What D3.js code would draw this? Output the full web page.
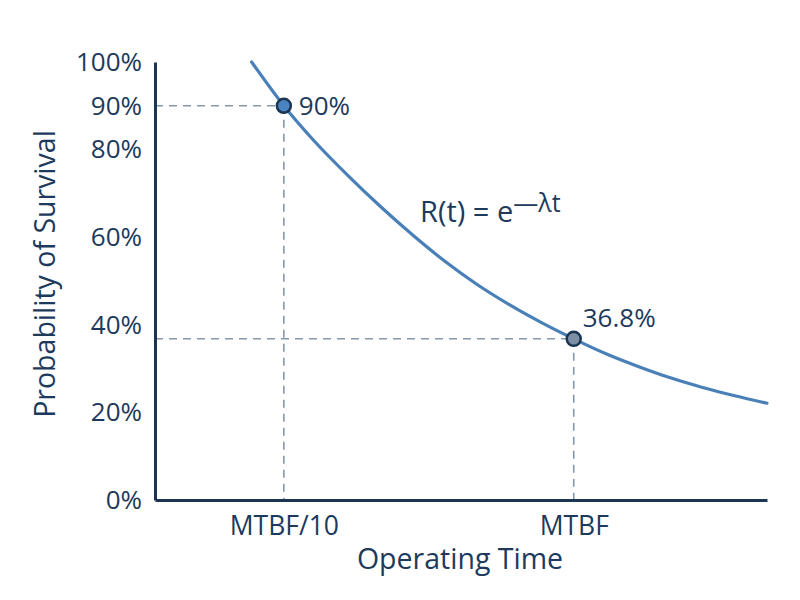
<!DOCTYPE html>
<html>
<head>
<meta charset="utf-8">
<script src="https://cdn.jsdelivr.net/npm/d3@7"></script>
<style>
  html, body { margin: 0; padding: 0; background: #ffffff; }
  svg { display: block; }
  text { font-family: "Open Sans", "Noto Sans", sans-serif; fill: #1d3a5c; }
</style>
</head>
<body>
<svg id="chart" width="800" height="600"></svg>
<script>
// ---- data ----
const timeValues = [0, 0.1, 0.2, 0.3, 0.4, 0.5, 0.6, 0.7, 0.8, 0.9, 1.0, 1.1, 1.2, 1.3, 1.4, 1.5, 1.6]; // in MTBF units
const survivalValues = [1.00, 0.90, 0.815, 0.74, 0.67, 0.605, 0.545, 0.492, 0.446, 0.405, 0.368, 0.334, 0.305, 0.279, 0.257, 0.238, 0.221];
const xTickValues = [0.1, 1.0];
const xTickLabels = ["MTBF/10", "MTBF"];
const yTickValues = [0, 0.2, 0.4, 0.6, 0.8, 0.9, 1.0];
const markerTimes = [0.1, 1.0];
const markerValues = [0.90, 0.368];
const markerLabels = ["90%", "36.8%"];
const xTitle = "Operating Time";
const yTitle = "Probability of Survival";

// ---- layout ----
const svg = d3.select("#chart");
const x = d3.scaleLinear().domain([-0.3, 1.6]).range([155, 767]);
const y = d3.scaleLinear().domain([0, 1]).range([500, 62]);

const navy = "#1b3552";
const curveColor = "#4a80b8";
const dashColor = "#8797ab";

// guide (dashed) lines
const guides = svg.append("g");
markerTimes.forEach((t, i) => {
  const v = markerValues[i];
  guides.append("line")
    .attr("x1", x.range()[0]).attr("x2", x(t))
    .attr("y1", y(v)).attr("y2", y(v))
    .attr("stroke", dashColor).attr("stroke-width", 1.6)
    .attr("stroke-dasharray", "8,6");
  guides.append("line")
    .attr("x1", x(t)).attr("x2", x(t))
    .attr("y1", y(v)).attr("y2", y(0))
    .attr("stroke", dashColor).attr("stroke-width", 1.6)
    .attr("stroke-dasharray", "8,6");
});

// axes
const yAxis = d3.axisLeft(y)
  .tickValues(yTickValues)
  .tickFormat(d3.format(".0%"))
  .tickSize(0).tickSizeOuter(0).tickPadding(13);
const gy = svg.append("g").attr("transform", `translate(${x.range()[0]},0)`).call(yAxis);
gy.select(".domain").attr("stroke", navy).attr("stroke-width", 3);
gy.selectAll("text").attr("font-size", 26).attr("fill", "#1d3a5c")
  .style("font-family", "'Open Sans', sans-serif");

const xAxis = d3.axisBottom(x)
  .tickValues(xTickValues)
  .tickFormat((d, i) => xTickLabels[i])
  .tickSize(0).tickSizeOuter(0).tickPadding(16);
const gx = svg.append("g").attr("transform", `translate(0,${y(0)})`).call(xAxis);
gx.select(".domain").attr("stroke", navy).attr("stroke-width", 3);
gx.selectAll("text").attr("font-size", 26.5).attr("fill", "#1d3a5c")
  .style("font-family", "'Open Sans', sans-serif");

// curve
const curveData = timeValues.map((t, i) => ({ t, r: survivalValues[i] }));
const line = d3.line().x(d => x(d.t)).y(d => y(d.r)).curve(d3.curveMonotoneX);
svg.append("path")
  .datum(curveData)
  .attr("d", line)
  .attr("fill", "none")
  .attr("stroke", curveColor)
  .attr("stroke-width", 3.2)
  .attr("stroke-linecap", "round");

// markers
const markerFills = ["#4a84c0", "#7d8fa4"];
const labelOffsets = [[15, 9], [9, -12]];
markerTimes.forEach((t, i) => {
  svg.append("circle")
    .attr("cx", x(t)).attr("cy", y(markerValues[i]))
    .attr("r", 7)
    .attr("fill", markerFills[i])
    .attr("stroke", navy).attr("stroke-width", 2.5);
  svg.append("text")
    .attr("x", x(t) + labelOffsets[i][0])
    .attr("y", y(markerValues[i]) + labelOffsets[i][1])
    .attr("font-size", 26)
    .text(markerLabels[i]);
});

// formula
const formula = svg.append("text").attr("x", 420).attr("y", 222).attr("font-size", 29);
formula.append("tspan").text("R(t) = e");
formula.append("tspan").attr("dy", -10).attr("font-size", 25).text("—λt");

// axis titles
svg.append("text")
  .attr("x", 460).attr("y", 569)
  .attr("text-anchor", "middle")
  .attr("font-size", 28.5)
  .text(xTitle);
svg.append("text")
  .attr("transform", "translate(55,274) rotate(-90)")
  .attr("text-anchor", "middle")
  .attr("font-size", 28.5)
  .text(yTitle);
</script>
</body>
</html>
